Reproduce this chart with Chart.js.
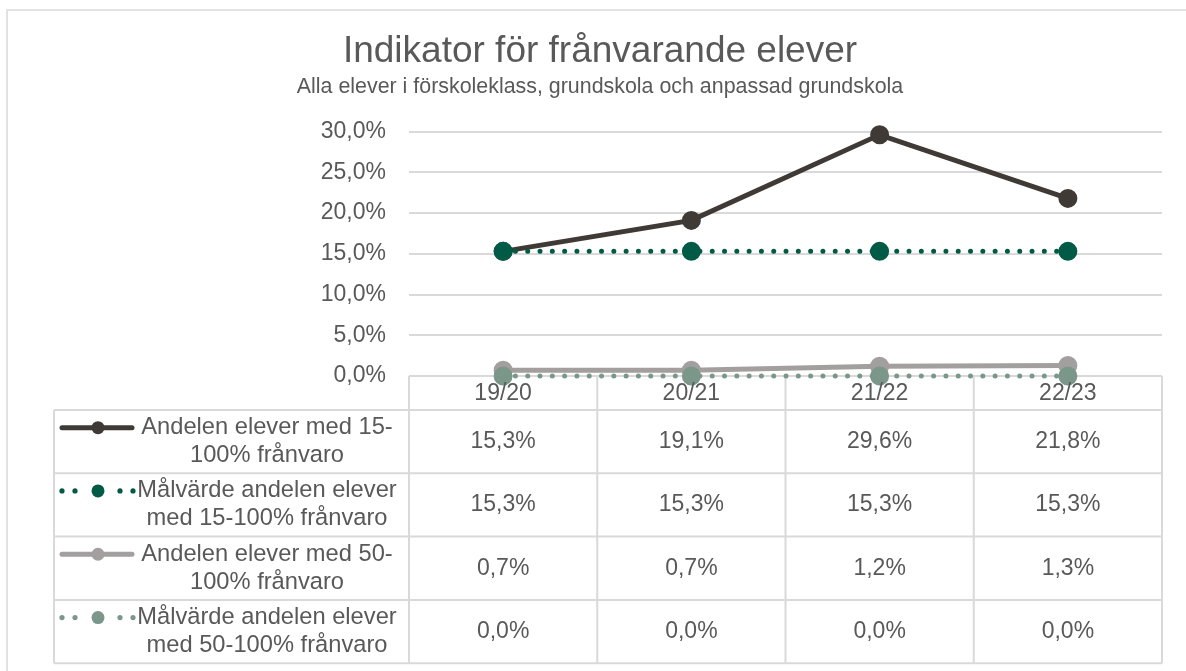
<!DOCTYPE html>
<html>
<head>
<meta charset="utf-8">
<script src="https://cdn.jsdelivr.net/npm/chart.js@4.4.1/dist/chart.umd.min.js"></script>
<style>
  body { margin: 0; background: #fff; }
  canvas { display: block; }
</style>
</head>
<body>
<canvas id="ChartFranvaro" width="1186" height="671"></canvas>
<script>
// data
const categories = ['19/20', '20/21', '21/22', '22/23'];
const andel15 = [15.3, 19.1, 29.6, 21.8];
const mal15 = [15.3, 15.3, 15.3, 15.3];
const andel50 = [0.7, 0.7, 1.2, 1.3];
const mal50 = [0.0, 0.0, 0.0, 0.0];
const seriesLabels = [
    ['Andelen elever med 15-', '100% frånvaro'],
    ['Målvärde andelen elever', 'med 15-100% frånvaro'],
    ['Andelen elever med 50-', '100% frånvaro'],
    ['Målvärde andelen elever', 'med 50-100% frånvaro']
];
const yMin = 0, yMax = 30, yStep = 5;

const textColor = '#595959';
const gridColor = '#d9d9d9';
const font = 'Liberation Sans, Arial, sans-serif';
const headH = 34, rowH = 63.3, tLeft = 54;

function pct(v) {
    return v.toFixed(1).replace('.', ',') + '%';
}

// data table under the plot + outer frame
const dataTable = {
    id: 'dataTable',
    beforeDraw(chart) {
        const ctx = chart.ctx;
        ctx.save();
        ctx.fillStyle = '#fff';
        ctx.fillRect(0, 0, chart.width, chart.height);
        ctx.strokeStyle = gridColor;
        ctx.lineWidth = 1.5;
        ctx.strokeRect(7, 10, chart.width + 20, chart.height + 20);
        ctx.restore();
    },
    beforeDatasetsDraw(chart) {
        // table grid goes under the lines
        const ctx = chart.ctx;
        const a = chart.chartArea;
        const colW = (a.right - a.left) / categories.length;
        const top = a.bottom;
        const rowsTop = top + headH;
        const bottom = rowsTop + rowH * seriesLabels.length;
        ctx.save();
        ctx.strokeStyle = gridColor;
        ctx.lineWidth = 2;
        ctx.beginPath();
        ctx.moveTo(a.left, top); ctx.lineTo(a.right, top);
        for (let r = 0; r <= seriesLabels.length; r++) {
            const y = rowsTop + r * rowH;
            ctx.moveTo(tLeft, y); ctx.lineTo(a.right, y);
        }
        for (let c = 0; c <= categories.length; c++) {
            const xx = a.left + c * colW;
            ctx.moveTo(xx, top); ctx.lineTo(xx, bottom);
        }
        ctx.moveTo(tLeft, rowsTop); ctx.lineTo(tLeft, bottom);
        ctx.stroke();
        ctx.restore();
    },
    afterDraw(chart) {
        const ctx = chart.ctx;
        const a = chart.chartArea;
        const x = chart.scales.x;
        const top = a.bottom;
        const rowsTop = top + headH;

        ctx.save();
        ctx.fillStyle = textColor;
        ctx.textAlign = 'center';
        ctx.textBaseline = 'middle';
        ctx.font = '23px ' + font;
        categories.forEach((c, i) => {
            ctx.fillText(c, x.getPixelForValue(i), top + headH / 2 + 1);
        });

        chart.data.datasets.forEach((ds, r) => {
            const mid = rowsTop + r * rowH + rowH / 2;
            ctx.font = '23px ' + font;
            ctx.fillStyle = textColor;
            ds.data.forEach((v, i) => {
                ctx.fillText(pct(v), x.getPixelForValue(i), mid);
            });

            // legend key
            const ky = mid - 14;
            ctx.strokeStyle = ds.borderColor;
            ctx.fillStyle = ds.borderColor;
            if (ds.borderDash) {
                [8, 21, 66, 79].forEach(dx => {
                    ctx.beginPath();
                    ctx.arc(tLeft + dx, ky, 2.6, 0, Math.PI * 2);
                    ctx.fill();
                });
            } else {
                ctx.lineWidth = ds.borderWidth;
                ctx.lineCap = 'round';
                ctx.beginPath();
                ctx.moveTo(tLeft + 8, ky); ctx.lineTo(tLeft + 78, ky);
                ctx.stroke();
            }
            ctx.beginPath();
            ctx.arc(tLeft + 44, ky, 6.5, 0, Math.PI * 2);
            ctx.fill();

            ctx.fillStyle = textColor;
            ctx.font = '23.7px ' + font;
            ctx.fillText(seriesLabels[r][0], 267, mid - 14);
            ctx.fillText(seriesLabels[r][1], 267, mid + 14);
        });
        ctx.restore();
    }
};

const ctxx = document.getElementById('ChartFranvaro').getContext('2d');
const chartFranvaro = new Chart(ctxx, {
    type: 'line',
    data: {
        labels: categories,
        datasets: [{
            label: seriesLabels[0].join(' '),
            data: andel15,
            borderColor: '#403a36',
            backgroundColor: '#403a36',
            borderWidth: 5,
            pointRadius: 7,
            order: 4
        }, {
            label: seriesLabels[1].join(' '),
            data: mal15,
            borderColor: '#005a46',
            backgroundColor: '#005a46',
            borderWidth: 5,
            borderDash: [0, 12.3],
            borderCapStyle: 'round',
            pointRadius: 7,
            order: 3
        }, {
            label: seriesLabels[2].join(' '),
            data: andel50,
            borderColor: '#a39f9f',
            backgroundColor: '#a39f9f',
            borderWidth: 5,
            pointRadius: 7,
            order: 2
        }, {
            label: seriesLabels[3].join(' '),
            data: mal50,
            borderColor: '#7b978a',
            backgroundColor: '#7b978a',
            borderWidth: 5,
            borderDash: [0, 12.3],
            borderCapStyle: 'round',
            pointRadius: 7,
            order: 1
        }]
    },
    options: {
        responsive: false,
        animation: false,
        clip: false,
        layout: { padding: { left: 38, right: 24, top: 0, bottom: 0 } },
        plugins: {
            legend: { display: false },
            tooltip: { enabled: false },
            title: {
                display: true,
                text: 'Indikator för frånvarande elever',
                color: textColor,
                font: { family: font, size: 37, weight: 'normal' },
                padding: { top: 30, bottom: 0 }
            },
            subtitle: {
                display: true,
                text: 'Alla elever i förskoleklass, grundskola och anpassad grundskola',
                color: textColor,
                font: { family: font, size: 21.4, weight: 'normal' },
                padding: { top: 0, bottom: 31.5 }
            }
        },
        scales: {
            x: {
                offset: true,
                grid: { display: false },
                border: { display: false },
                ticks: { display: false },
                afterFit(s) { s.height = 671 - 376; }
            },
            y: {
                min: yMin,
                max: yMax,
                grid: { color: gridColor, lineWidth: 2, drawTicks: false },
                border: { display: false },
                ticks: {
                    stepSize: yStep,
                    padding: 23,
                    color: textColor,
                    font: { family: font, size: 23 },
                    callback: v => pct(v)
                },
                afterFit(s) { s.width = 409 - 38; }
            }
        }
    },
    plugins: [dataTable]
});
</script>
</body>
</html>
